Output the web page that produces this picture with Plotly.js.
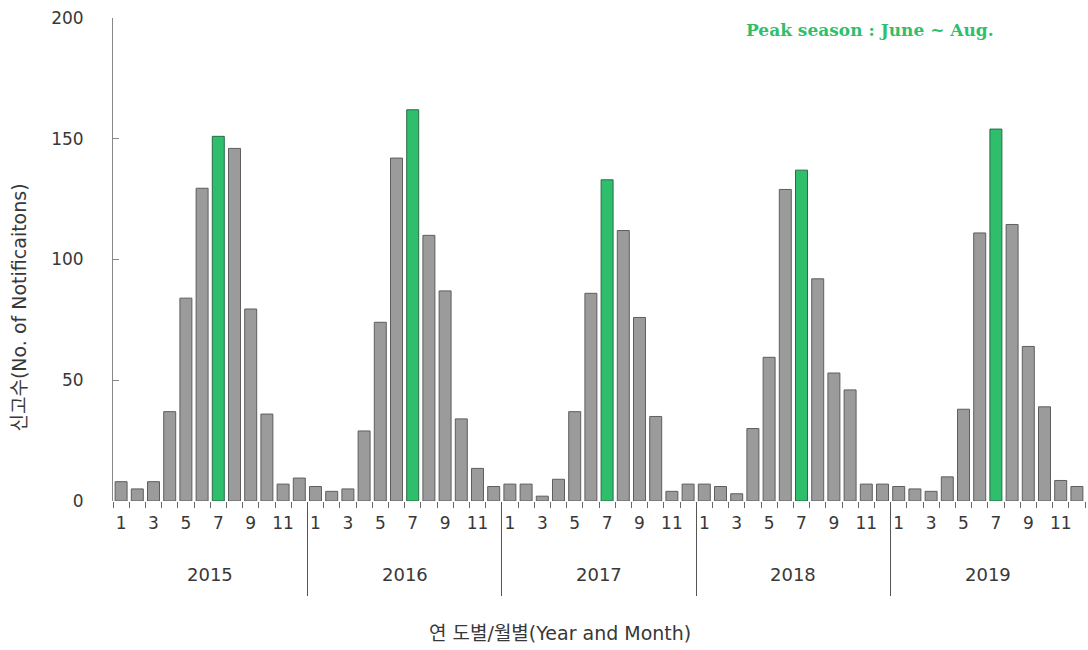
<!DOCTYPE html>
<html><head><meta charset="utf-8">
<script src="https://cdn.plot.ly/plotly-3.0.1.min.js"></script>
<style>html,body{margin:0;padding:0;background:#fff}#chart{width:1088px;height:650px}</style>
</head><body><div id="chart"></div>
<script>
const years = ['2015', '2016', '2017', '2018', '2019'];
const monthLabels = ['1', '2', '3', '4', '5', '6', '7', '8', '9', '10', '11', '12'];
const notif2015 = [8, 5, 8, 37, 84, 129.5, 151, 146, 79.5, 36, 7, 9.5];
const notif2016 = [6, 4, 5, 29, 74, 142, 162, 110, 87, 34, 13.5, 6];
const notif2017 = [7, 7, 2, 9, 37, 86, 133, 112, 76, 35, 4, 7];
const notif2018 = [7, 6, 3, 30, 59.5, 129, 137, 92, 53, 46, 7, 7];
const notif2019 = [6, 5, 4, 10, 38, 111, 154, 114.5, 64, 39, 8.5, 6];
const peakMonth = '7';
const yTicks = [0, 50, 100, 150, 200];

const series = [notif2015, notif2016, notif2017, notif2018, notif2019];
const xs = [], ys = [], fills = [], lines = [];
const labVals = [], labText = [], bounds = [], yearDiv = [], yearCenters = [];
series.forEach((arr, yi) => {
  arr.forEach((v, mi) => {
    const idx = yi * monthLabels.length + mi;
    xs.push(idx); ys.push(v);
    const peak = monthLabels[mi] === peakMonth;
    fills.push(peak ? '#2fbf6c' : '#9b9b9b');
    lines.push(peak ? '#2a6b45' : '#5e5e5e');
    if (mi % 2 === 0) { labVals.push(idx); labText.push(monthLabels[mi]); }
  });
  yearCenters.push(yi * 12 + 5.5);
  if (yi > 0) yearDiv.push(yi * 12 - 0.5);
});
for (let i = 0; i <= xs.length; i++) bounds.push(i - 0.5);
const xr = [-0.5, xs.length - 0.5];

const font = 'DejaVu Sans, Noto Sans CJK KR, sans-serif';
const txt = '#383838';
const trace = {
  type: 'bar', x: xs, y: ys, width: 0.74,
  marker: {color: fills, line: {color: lines, width: 1}},
  hoverinfo: 'y', showlegend: false
};
const baseX = {range: xr, showgrid: false, zeroline: false, showline: false, fixedrange: true};
const annotations = years.map((yr, i) => ({
  text: yr, x: yearCenters[i], xref: 'x', y: -0.153, yref: 'paper',
  showarrow: false, yanchor: 'middle', font: {family: font, size: 18, color: txt}
}));
annotations.push({
  text: '연 도별/월별(Year and Month)', x: 0.46, xref: 'paper', y: -0.273, yref: 'paper',
  showarrow: false, yanchor: 'middle', font: {family: font, size: 19, color: txt}
});
annotations.push({
  text: '신고수(No. of Notificaitons)', x: -0.097, xref: 'paper', y: 0.40, yref: 'paper',
  textangle: -90, showarrow: false, xanchor: 'center', yanchor: 'middle',
  font: {family: font, size: 19, color: txt}
});
annotations.push({
  text: 'Peak season : June ~ Aug.', x: 0.779, xref: 'paper', y: 0.975, yref: 'paper',
  showarrow: false, xanchor: 'center', yanchor: 'middle',
  font: {family: 'DejaVu Serif, serif', size: 17, color: '#2fbf6c', weight: 'bold'}
});

const layout = {
  width: 1088, height: 650,
  margin: {l: 113, r: 3, t: 18, b: 149},
  paper_bgcolor: '#fff', plot_bgcolor: '#fff',
  bargap: 0.26,
  xaxis: Object.assign({}, baseX, {
    tickmode: 'array', tickvals: labVals, ticktext: labText, ticks: '',
    ticklabelstandoff: 10,
    tickfont: {family: font, size: 17, color: txt}
  }),
  xaxis2: Object.assign({}, baseX, {
    overlaying: 'x', anchor: 'y', side: 'bottom', tickmode: 'array',
    tickvals: bounds, ticks: 'outside', ticklen: 6, tickwidth: 1, tickcolor: '#666',
    showticklabels: false
  }),
  xaxis3: Object.assign({}, baseX, {
    overlaying: 'x', anchor: 'y', side: 'bottom', tickmode: 'array',
    tickvals: yearDiv, ticks: 'outside', ticklen: 94, tickwidth: 1, tickcolor: '#555',
    showticklabels: false
  }),
  yaxis: {
    range: [0, 200], tickmode: 'array', tickvals: yTicks, ticks: 'inside', ticklen: 6,
    tickcolor: '#888', showline: true, linecolor: '#888', linewidth: 1,
    showgrid: false, zeroline: false, fixedrange: true, ticklabelstandoff: 25,
    tickfont: {family: font, size: 17, color: txt}
  },
  annotations: annotations
};
const helper2 = {type: 'scatter', x: [], y: [], xaxis: 'x2', yaxis: 'y', showlegend: false};
const helper3 = {type: 'scatter', x: [], y: [], xaxis: 'x3', yaxis: 'y', showlegend: false};
Plotly.newPlot('chart', [trace, helper2, helper3], layout, {displayModeBar: false, staticPlot: true});
</script></body></html>
